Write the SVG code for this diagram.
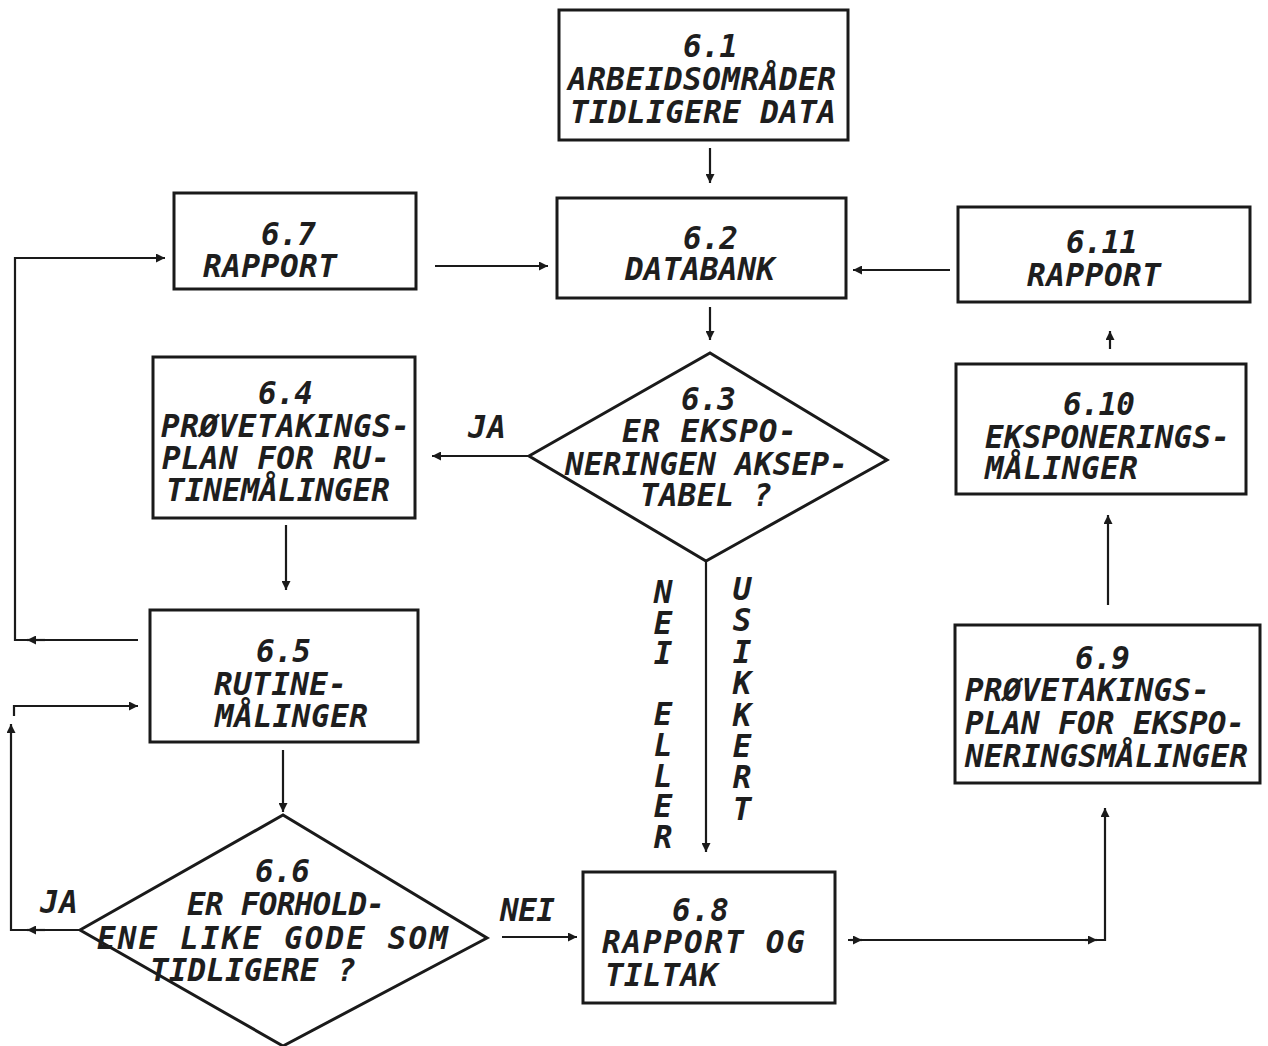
<svg xmlns="http://www.w3.org/2000/svg" width="1268" height="1046" viewBox="0 0 1268 1046">
<defs>
<style>
.box{fill:#fff;stroke:#1a1a1a;stroke-width:3}
.ln{fill:none;stroke:#1a1a1a;stroke-width:2.2}
.t{font-family:"DejaVu Sans Mono","Liberation Mono",monospace;font-weight:bold;font-style:italic;font-size:31px;fill:#1e1e1e}
.v{writing-mode:vertical-rl;text-orientation:upright}
</style>
<marker id="ah" viewBox="0 0 10 10" refX="10" refY="5" markerWidth="10" markerHeight="9" markerUnits="userSpaceOnUse" orient="auto">
<path d="M0,0 L10,5 L0,10 z" fill="#1a1a1a"/>
</marker>
</defs>
<rect width="1268" height="1046" fill="#fff"/>
<g id="connectors">
<path class="ln" d="M710,148 V183" marker-end="url(#ah)"/>
<path class="ln" d="M710,307 V340" marker-end="url(#ah)"/>
<path class="ln" d="M435,266 H548" marker-end="url(#ah)"/>
<path class="ln" d="M950,270 H853" marker-end="url(#ah)"/>
<path class="ln" d="M1110,349 V331" marker-end="url(#ah)"/>
<path class="ln" d="M1108,605 V515" marker-end="url(#ah)"/>
<path class="ln" d="M848,940 H1105 V808" marker-end="url(#ah)"/>
<path class="ln" d="M850,940 H862" marker-end="url(#ah)"/>
<path class="ln" d="M1085,940 H1097" marker-end="url(#ah)"/>
<path class="ln" d="M529,456 H432" marker-end="url(#ah)"/>
<path class="ln" d="M706,561 V852" marker-end="url(#ah)"/>
<path class="ln" d="M286,525 V590" marker-end="url(#ah)"/>
<path class="ln" d="M283,750 V812" marker-end="url(#ah)"/>
<path class="ln" d="M138,640 H15 V258 H165" marker-end="url(#ah)"/>
<path class="ln" d="M45,640 H27" marker-end="url(#ah)"/>
<path class="ln" d="M80,930 H11 V724" marker-end="url(#ah)"/>
<path class="ln" d="M45,930 H27" marker-end="url(#ah)"/>
<path class="ln" d="M14,716 V706 H138" marker-end="url(#ah)"/>
<path class="ln" d="M502,937 H577" marker-end="url(#ah)"/>
<path class="ln" d="M283,1030 V1046"/>
<text class="t" x="468" y="438" textLength="38">JA</text>
<text class="t" x="40" y="913" textLength="38">JA</text>
<text class="t" x="500" y="921" textLength="55">NEI</text>
<text class="t v" x="663" y="574" letter-spacing="-5.4">NEI ELLER</text>
<text class="t v" x="742" y="571" letter-spacing="-4.6">USIKKERT</text>
</g>
<g id="n61">
<rect class="box" x="559" y="10" width="289" height="130"/>
<text class="t" x="683" y="57" textLength="55">6.1</text>
<text class="t" x="568" y="90" textLength="268">ARBEIDSOMRÅDER</text>
<text class="t" x="570" y="123" textLength="266">TIDLIGERE DATA</text>
</g>
<g id="n62">
<rect class="box" x="557" y="198" width="289" height="100"/>
<text class="t" x="683" y="249" textLength="55">6.2</text>
<text class="t" x="625" y="280" textLength="150">DATABANK</text>
</g>
<g id="n67">
<rect class="box" x="174" y="193" width="242" height="96"/>
<text class="t" x="261" y="245" textLength="55">6.7</text>
<text class="t" x="203" y="277" textLength="134">RAPPORT</text>
</g>
<g id="n611">
<rect class="box" x="958" y="207" width="292" height="95"/>
<text class="t" x="1066" y="253" textLength="72">6.11</text>
<text class="t" x="1027" y="286" textLength="134">RAPPORT</text>
</g>
<g id="n64">
<rect class="box" x="153" y="357" width="262" height="161"/>
<text class="t" x="258" y="404" textLength="55">6.4</text>
<text class="t" x="161" y="437" textLength="249">PRØVETAKINGS-</text>
<text class="t" x="162" y="469" textLength="228">PLAN FOR RU-</text>
<text class="t" x="166" y="501" textLength="224">TINEMÅLINGER</text>
</g>
<g id="n63">
<path class="box" d="M529,456 L710,353 L887,460 L706,561 Z"/>
<text class="t" x="681" y="410" textLength="55">6.3</text>
<text class="t" x="622" y="442" textLength="175">ER EKSPO-</text>
<text class="t" x="565" y="475" textLength="283">NERINGEN AKSEP-</text>
<text class="t" x="640" y="506" textLength="132">TABEL ?</text>
</g>
<g id="n610">
<rect class="box" x="956" y="364" width="290" height="130"/>
<text class="t" x="1063" y="415" textLength="72">6.10</text>
<text class="t" x="985" y="448" textLength="245">EKSPONERINGS-</text>
<text class="t" x="985" y="479" textLength="153">MÅLINGER</text>
</g>
<g id="n65">
<rect class="box" x="150" y="610" width="268" height="132"/>
<text class="t" x="256" y="662" textLength="55">6.5</text>
<text class="t" x="214" y="695" textLength="133">RUTINE-</text>
<text class="t" x="215" y="727" textLength="153">MÅLINGER</text>
</g>
<g id="n69">
<rect class="box" x="955" y="625" width="305" height="158"/>
<text class="t" x="1075" y="669" textLength="55">6.9</text>
<text class="t" x="965" y="701" textLength="245">PRØVETAKINGS-</text>
<text class="t" x="965" y="734" textLength="280">PLAN FOR EKSPO-</text>
<text class="t" x="965" y="767" textLength="283">NERINGSMÅLINGER</text>
</g>
<g id="n66">
<path class="box" d="M80,930 L283,815 L487,938 L283,1046 Z"/>
<text class="t" x="255" y="882" textLength="55">6.6</text>
<text class="t" x="187" y="915" textLength="198">ER FORHOLD-</text>
<text class="t" x="97" y="949" textLength="351">ENE LIKE GODE SOM</text>
<text class="t" x="150" y="981" textLength="206">TIDLIGERE ?</text>
</g>
<g id="n68">
<rect class="box" x="583" y="872" width="252" height="131"/>
<text class="t" x="672" y="921" textLength="57">6.8</text>
<text class="t" x="602" y="953" textLength="203">RAPPORT OG</text>
<text class="t" x="605" y="986" textLength="113">TILTAK</text>
</g>
</svg>
